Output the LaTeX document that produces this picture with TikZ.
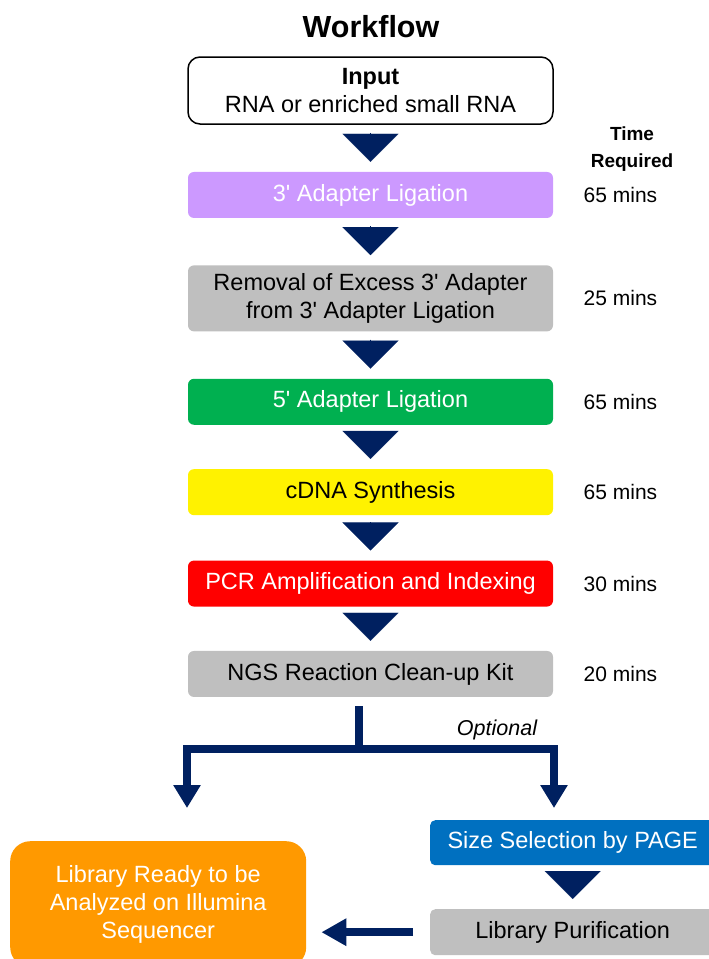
\documentclass[tikz,border=0pt]{standalone}
\usepackage{fontspec}
\setmainfont{Liberation Sans}
\usetikzlibrary{arrows.meta,positioning}

\definecolor{navy}{HTML}{002060}
\definecolor{lavender}{HTML}{CC99FF}
\definecolor{stepgray}{HTML}{BFBFBF}
\definecolor{stepgreen}{HTML}{00B050}
\definecolor{stepblue}{HTML}{0070C0}
\definecolor{steporange}{HTML}{FF9900}
\newcommand{\apos}{\textquotesingle}

\begin{document}
\begin{tikzpicture}[
      x=1pt, y=-1pt,
      stage/.style={
        rectangle,
        rounded corners=6pt,
        align=center,
        inner sep=2pt,
        minimum width=365pt,
        minimum height=46pt,
        font=\fontsize{23.5}{28}\selectfont
      },
      time/.style={
        font=\fontsize{21}{25}\selectfont
      },
      flowtri/.style={
        draw=navy,
        fill=navy,
        line width=0.1pt,
        shorten <=8pt,
        shorten >=10pt,
        -{Triangle[width=56pt,length=28pt]}
      },
      bus/.style={
        draw=navy,
        line width=8pt
      }
    ]

    \clip (0,0) rectangle (709,959);

    \node [font=\bfseries\fontsize{30.5}{34}\selectfont] (title) at (371,27) {Workflow};

    \node [stage, draw=black, line width=1.5pt, rounded corners=12pt, minimum height=67pt] (input) at (370.5,90.5) {\textbf{Input}\\RNA or enriched small RNA};
    \node [stage, fill=lavender, text=white, anchor=north, yshift=-47pt] (lig3) at (input.south) {3\apos{} Adapter Ligation};
    \node [stage, fill=stepgray, minimum height=66pt, anchor=north, yshift=-47pt] (removal) at (lig3.south) {Removal of Excess 3\apos{} Adapter\\from 3\apos{} Adapter Ligation};
    \node [stage, fill=stepgreen, text=white, anchor=north, yshift=-47pt] (lig5) at (removal.south) {5\apos{} Adapter Ligation};
    \node [stage, fill=yellow, anchor=north, yshift=-44pt] (cdna) at (lig5.south) {cDNA Synthesis};
    \node [stage, fill=red, text=white, anchor=north, yshift=-45pt] (pcr) at (cdna.south) {PCR Amplification and Indexing};
    \node [stage, fill=stepgray, anchor=north, yshift=-44pt] (ngs) at (pcr.south) {NGS Reaction Clean-up Kit};

    % times on the right
    \node [font=\bfseries\fontsize{19}{27}\selectfont, align=center] (timehead) at (632,149) {Time\\Required};
    \node [time, right=27pt of lig3] (t1) {65 mins};
    \node [time, right=27pt of removal] (t2) {25 mins};
    \node [time, right=27pt of lig5] (t3) {65 mins};
    \node [time, right=27pt of cdna] (t4) {65 mins};
    \node [time, right=27pt of pcr] (t5) {30 mins};
    \node [time, right=27pt of ngs] (t6) {20 mins};

    \foreach \a/\b in {input/lig3, lig3/removal, removal/lig5, lig5/cdna, cdna/pcr, pcr/ngs}
      \draw [flowtri] (\a) -- (\b);

    % split below the clean-up
    \coordinate (split) at (359,749);
    \coordinate (leftdrop) at (187,808);
    \coordinate (rightdrop) at (554,808);
    \draw [bus, shorten <=9pt] (ngs.south -| split) -- (split);
    \draw [bus, -{Triangle[width=26pt,length=23pt]}] (split) -| (leftdrop);
    \draw [bus, -{Triangle[width=26pt,length=23pt]}] (split) -| (rightdrop);
    \node [font=\itshape\fontsize{21.5}{24}\selectfont] (optional) at (497,730) {Optional};

    \node [stage, fill=stepblue, text=white, minimum width=285pt, minimum height=45pt, rounded corners=5pt, anchor=north west] (sizesel) at (430,820) {Size Selection by PAGE};
    \node [stage, fill=stepgray, minimum width=285pt, rounded corners=5pt, anchor=north west] (libpur) at (430,909) {Library Purification};
    \draw [flowtri] (sizesel) -- (libpur);

    \node [stage, fill=steporange, text=white, minimum width=296pt, minimum height=126pt, rounded corners=20pt, anchor=north west] (ready) at (10,841) {Library Ready to be\\Analyzed on Illumina\\Sequencer};
    \draw [bus, shorten <=17pt, shorten >=15pt, -{Triangle[width=26pt,length=25pt]}] (libpur.west) -- (libpur.west -| ready.east);

    \end{tikzpicture}
\end{document}
